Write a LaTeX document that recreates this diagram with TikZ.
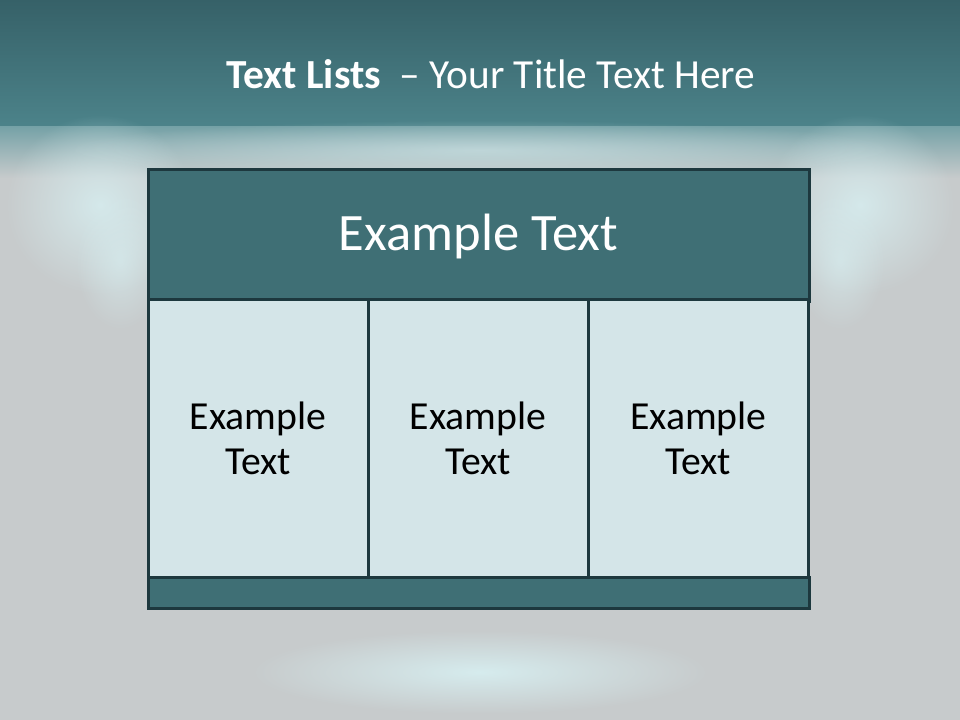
\documentclass[tikz,border=0pt]{standalone}
\usepackage{fontspec}
\setmainfont{Carlito}
\usetikzlibrary{fadings}
\definecolor{bandtop}{RGB}{54,97,104}
\definecolor{bandbot}{RGB}{76,131,138}
\definecolor{bandfade}{RGB}{118,162,167}
\definecolor{backgray}{RGB}{199,203,204}
\definecolor{glowcyan}{RGB}{214,236,238}
\definecolor{headfill}{RGB}{63,111,117}
\definecolor{cellfill}{RGB}{212,229,232}
\definecolor{rulecol}{RGB}{29,56,62}
\tikzfading[name=glowfade, inner color=transparent!0, outer color=transparent!100]

\begin{document}
\begin{tikzpicture}[x=0.75pt,y=-0.75pt,
  box/.style={draw=rulecol,line width=2.25pt,outer sep=0pt,inner sep=0pt},
  headbox/.style={box,fill=headfill,text=white,minimum width=495.75pt,minimum height=99pt,
    font=\fontsize{39.4}{47}\selectfont},
  cellbox/.style={box,fill=cellfill,text=black,minimum width=165pt,minimum height=207.75pt,
    align=center,font=\fontsize{29.8}{34}\selectfont},
  footbox/.style={box,fill=headfill,minimum width=495.75pt,minimum height=23.25pt}]
  \useasboundingbox (0,0) rectangle (960,720);
  % background and top band
  \fill[backgray] (0,0) rectangle (960,720);
  \shade[top color=bandtop,bottom color=bandbot] (0,0) rectangle (960,127);
  \shade[top color=bandfade,bottom color=backgray] (0,127) rectangle (960,178);
  % soft glows
  \fill[glowcyan,fill opacity=0.9,path fading=glowfade] (100,205) ellipse [x radius=95,y radius=90];
  \fill[glowcyan,fill opacity=0.9,path fading=glowfade] (860,205) ellipse [x radius=95,y radius=90];
  \fill[glowcyan,fill opacity=0.7,path fading=glowfade] (120,260) ellipse [x radius=45,y radius=70];
  \fill[glowcyan,fill opacity=0.7,path fading=glowfade] (840,260) ellipse [x radius=45,y radius=70];
  \fill[glowcyan,fill opacity=0.6,path fading=glowfade] (480,150) ellipse [x radius=420,y radius=30];
  \fill[glowcyan,path fading=glowfade] (480,672) ellipse [x radius=230,y radius=42];
  % title
  \node[anchor=base,text=white,font=\fontsize{31}{36}\selectfont] (title) at (491,89)
    {\textbf{Text Lists}\ \ – Your Title Text Here};
  % table
  \node[headbox] (head) at (478.5,236) {Example Text};
  \node[cellbox] (cellA) at (258,438.5) {Example\\Text};
  \node[cellbox] (cellB) at (478,438.5) {Example\\Text};
  \node[cellbox] (cellC) at (698.5,438.5) {Example\\Text};
  \node[footbox] (foot) at (478.5,592.5) {};
\end{tikzpicture}
\end{document}
